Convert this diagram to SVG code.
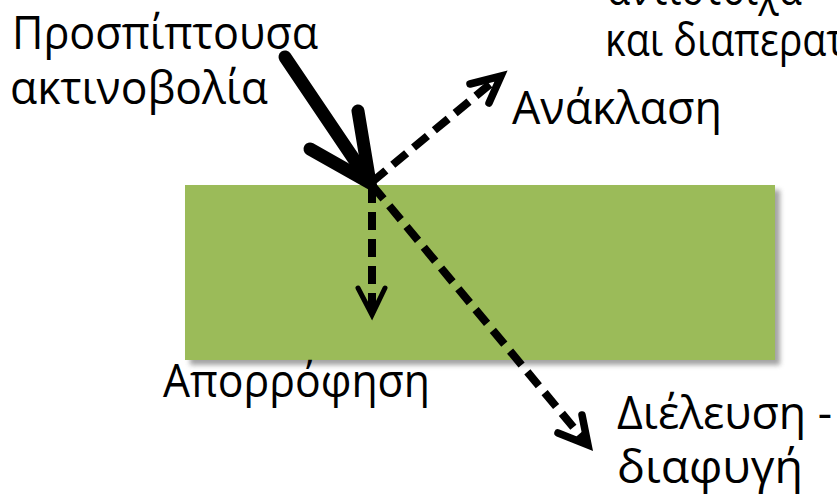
<svg xmlns="http://www.w3.org/2000/svg" width="837" height="495" viewBox="0 0 837 495">
<defs>
<style>
.t{font-family:"Open Sans","Noto Sans","DejaVu Sans",sans-serif;font-size:45px;fill:#000}
.d{fill:none;stroke:#000;stroke-width:8;stroke-dasharray:18 9}
.h{fill:none;stroke:#000;stroke-width:7.5;stroke-linecap:round;stroke-linejoin:miter}
</style>
<filter id="sh" x="-5%" y="-10%" width="110%" height="125%">
<feGaussianBlur stdDeviation="2.5"/>
</filter>
</defs>
<rect width="837" height="495" fill="#fff"/>
<g id="material">
<rect x="190" y="190" width="590" height="175" fill="#8c8c8c" opacity="0.8" filter="url(#sh)"/>
<rect x="185" y="185" width="590" height="175" fill="#9bbb59"/>
</g>
<g id="connectors">
<g id="incident">
<path d="M285,57 L368,180" stroke="#000" stroke-width="13" stroke-linecap="round" fill="none"/>
<path d="M310,149 L370,183 L358,111" fill="none" stroke="#000" stroke-width="13" stroke-linecap="round" stroke-linejoin="miter"/>
</g>
<g id="reflection">
<path class="d" d="M372,182 L495,80"/>
<path class="h" d="M470,84 L501,76 L489,103"/>
</g>
<g id="absorption">
<path class="d" d="M372,185 L372,310"/>
<path class="h" style="stroke-width:5" d="M358,288 L372,315 L385,288"/>
</g>
<g id="transmission">
<path class="d" d="M372,185 L584,440"/>
<path class="h" d="M558,433 L588,445 L582,415"/>
</g>
</g>
<g id="labels">
<text class="t" x="12" y="49" textLength="306" lengthAdjust="spacingAndGlyphs">Προσπίπτουσα</text>
<text class="t" x="10" y="104" textLength="258" lengthAdjust="spacingAndGlyphs">ακτινοβολία</text>
<text class="t" x="512" y="124" textLength="210" lengthAdjust="spacingAndGlyphs">Ανάκλαση</text>
<text class="t" x="163" y="397" textLength="267" lengthAdjust="spacingAndGlyphs">Απορρόφηση</text>
<text class="t" x="617" y="429" textLength="215" lengthAdjust="spacingAndGlyphs">Διέλευση -</text>
<text class="t" x="617" y="483" textLength="186" lengthAdjust="spacingAndGlyphs">διαφυγή</text>
<text class="t" x="607" y="5" textLength="195" lengthAdjust="spacingAndGlyphs">αντίστοιχα</text>
<text class="t" x="605" y="56" textLength="240" lengthAdjust="spacingAndGlyphs">και διαπερατ</text>
</g>
</svg>
